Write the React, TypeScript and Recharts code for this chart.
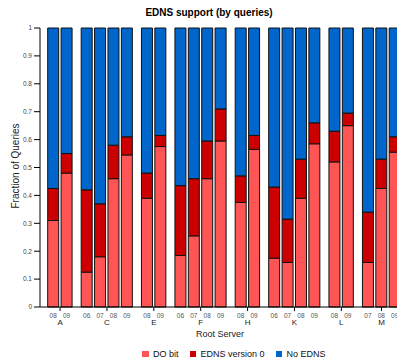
import { BarChart, Bar, XAxis, YAxis, LabelList } from "recharts";

// one entry per bar, left to right
const servers = ["A", "A", "C", "C", "C", "C", "E", "E", "F", "F", "F", "F", "H", "H", "K", "K", "K", "K", "L", "L", "M", "M", "M"];
const years = ["08", "09", "06", "07", "08", "09", "08", "09", "06", "07", "08", "09", "08", "09", "06", "07", "08", "09", "08", "09", "07", "08", "09"];

const doBit = [0.31, 0.48, 0.125, 0.18, 0.46, 0.545, 0.39, 0.575, 0.185, 0.255, 0.46, 0.595, 0.375, 0.565, 0.175, 0.16, 0.39, 0.585, 0.52, 0.65, 0.16, 0.425, 0.555];
const ednsV0 = [0.115, 0.07, 0.295, 0.19, 0.12, 0.065, 0.09, 0.04, 0.25, 0.205, 0.135, 0.115, 0.095, 0.05, 0.255, 0.155, 0.14, 0.075, 0.11, 0.045, 0.18, 0.105, 0.055];
const noEdns = [0.575, 0.45, 0.58, 0.63, 0.42, 0.39, 0.52, 0.385, 0.565, 0.54, 0.405, 0.29, 0.53, 0.385, 0.57, 0.685, 0.47, 0.34, 0.37, 0.305, 0.66, 0.47, 0.39];

const yTicks = [0, 0.1, 0.2, 0.3, 0.4, 0.5, 0.6, 0.7, 0.8, 0.9, 1];

const series = [
  { key: "doBit", name: "DO bit", color: "#ff5555" },
  { key: "ednsV0", name: "EDNS version 0", color: "#cc0000" },
  { key: "noEdns", name: "No EDNS", color: "#0066cc" },
];

// bars sit one slot apart, with half a slot extra between servers
let group = -1;
let prev = "";
const data = servers.map((s, i) => {
  if (s !== prev) {
    group++;
    prev = s;
  }
  return { pos: i + group * 0.5, server: s, year: years[i], doBit: doBit[i], ednsV0: ednsV0[i], noEdns: noEdns[i] };
});

const groups = Array.from(new Set(servers)).map((s) => {
  const ps = data.filter((d) => d.server === s).map((d) => d.pos);
  return { server: s, center: ps.reduce((a, b) => a + b, 0) / ps.length };
});

const FONT = "'Liberation Sans', Arial, sans-serif";

const GroupTick = (props: any) => {
  const { x, y, payload } = props;
  const g = groups.find((g) => Math.abs(g.center - payload.value) < 0.01);
  return (
    <text x={x} y={y + 12} textAnchor="middle" fontSize={8} fill="#222" fontFamily={FONT}>
      {g ? g.server : ""}
    </text>
  );
};

const YearLabel = (props: any) => {
  const { x, y, width, height, value } = props;
  return (
    <text x={x + width / 2} y={y + height + 10.5} textAnchor="middle" fontSize={6.5} fill="#555" fontFamily={FONT}>
      {value}
    </text>
  );
};

export default function App() {
  return (
    <div style={{ position: "absolute", left: 0, top: 0, width: 397, height: 364, overflow: "hidden", background: "#fff", fontFamily: FONT }}>
      <BarChart width={415} height={364} data={data} margin={{ top: 28, right: 0, bottom: 27, left: 0 }}>
        <XAxis
          type="number"
          dataKey="pos"
          domain={[-1, 27]}
          allowDataOverflow
          ticks={groups.map((g) => g.center)}
          interval={0}
          tickSize={4}
          tickLine={{ stroke: "#000" }}
          axisLine={{ stroke: "#000" }}
          tick={<GroupTick />}
          height={30}
        />
        <YAxis
          type="number"
          domain={[0, 1]}
          ticks={yTicks}
          interval={0}
          width={40}
          tickSize={6}
          tickLine={{ stroke: "#000" }}
          axisLine={{ stroke: "#000" }}
          tick={{ fontSize: 6.5, fill: "#444", fontFamily: FONT }}
        />
        {series.map((s, i) => (
          <Bar key={s.key} dataKey={s.key} name={s.name} stackId="q" fill={s.color} stroke="#111" strokeWidth={1} barSize={11} isAnimationActive={false}>
            {i === 0 && <LabelList dataKey="year" content={<YearLabel />} />}
          </Bar>
        ))}
        <text x={209} y={16} textAnchor="middle" fontSize={10} fontWeight="bold" fill="#000" fontFamily={FONT}>
          EDNS support (by queries)
        </text>
        <text x={220} y={337} textAnchor="middle" fontSize={9} fill="#222" fontFamily={FONT}>
          Root Server
        </text>
        <text transform="translate(19,166) rotate(-90)" textAnchor="middle" fontSize={10} fill="#222" fontFamily={FONT}>
          Fraction of Queries
        </text>
      </BarChart>
      <div style={{ position: "absolute", left: 142, top: 349, display: "flex", alignItems: "center", fontSize: 9, color: "#111" }}>
        {series.map((s) => (
          <div key={s.key} style={{ display: "flex", alignItems: "center", marginRight: 11 }}>
            <span style={{ display: "inline-block", width: 6.5, height: 6.5, background: s.color, marginRight: 4.5 }} />
            <span>{s.name}</span>
          </div>
        ))}
      </div>
    </div>
  );
}
